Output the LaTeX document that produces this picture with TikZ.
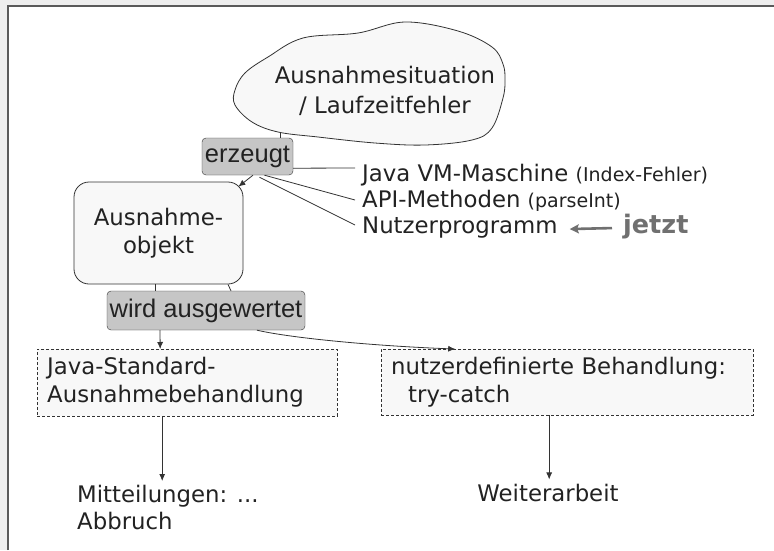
\documentclass[tikz,border=0pt]{standalone}
\usepackage{fontspec}
\setmainfont{DejaVu Sans}
\newfontfamily\arialfont{Liberation Sans}
\usetikzlibrary{arrows.meta,calc}
\definecolor{txt}{HTML}{222222}
\definecolor{ln}{HTML}{333333}
\definecolor{boxgray}{HTML}{C6C6C6}
\definecolor{pale}{HTML}{F8F8F8}
\definecolor{jetztgray}{HTML}{707070}
\definecolor{outerbg}{HTML}{EEEEEE}
\definecolor{frameline}{HTML}{5A5A5A}
\begin{document}
\begin{tikzpicture}[x=1pt,y=-1pt,
  every node/.style={text=txt, font=\fontsize{22.8}{28}\selectfont},
  graybox/.style={draw=ln, fill=boxgray, rounded corners=4pt, inner xsep=1pt, inner ysep=0pt,
     font=\arialfont\fontsize{25.5}{30}\selectfont},
  dashbox/.style={draw=ln, fill=pale, dash pattern=on 3pt off 2pt, align=left, inner xsep=10pt, anchor=north west},
  listitem/.style={inner sep=0pt, anchor=base west},
  conn/.style={draw=ln, line width=0.8pt},
  arr/.style={conn, -{Latex[length=7pt,width=6pt]}},
  garr/.style={draw=jetztgray, line width=2.6pt, -{Stealth[length=9pt,width=9pt,inset=1.5pt]}}
]
\useasboundingbox (0,0) rectangle (774,550);
% frame
\fill[outerbg] (0,0) rectangle (774,550);
\fill[white] (8,6) rectangle (774,550);
\draw[frameline, line width=1.5pt] (8,550) -- (8,6) -- (774,6);

% cloud
\draw[ln, fill=pale, line width=0.8pt] plot[smooth cycle, tension=0.6] coordinates {
  (303,38) (358,33) (405,22) (458,31) (492,47) (503,64) (505,80) (503,98) (492,128)
  (472,140) (425,145) (375,143) (318,137) (278,132) (252,122) (235,105) (235,90)
  (245,73) (268,57)};
\node[align=center, font=\fontsize{22.8}{30}\selectfont] (cloud) at (385,91) {Ausnahmesituation\\/ Laufzeitfehler};
\coordinate (cloudfoot) at (280,132);

% boxes
\node[graybox, minimum width=91pt, minimum height=37pt] (erzeugt) at (247.5,156.5) {erzeugt};
\node[draw=ln, fill=pale, rounded corners=15pt, minimum width=169pt, minimum height=102pt, align=center, line width=0.8pt]
  (objekt) at (158.5,233) {Ausnahme-\\objekt};
\node[graybox, minimum width=198pt, minimum height=39pt] (wird) at (206,310.5) {wird ausgewertet};

\node[dashbox, minimum width=300pt, minimum height=67pt, text width=280pt] (javastd) at (37,349)
  {Java-Standard-\\Ausnahmebehandlung};
\node[dashbox, minimum width=372pt, minimum height=66pt, text width=352pt] (nutzerdef) at (381,349)
  {nutzerdefinierte Behandlung:\\\hspace*{17pt}try-catch};

\node[align=left, anchor=north west, inner sep=4pt, font=\fontsize{22.8}{26.5}\selectfont] (mitt) at (73,481) {Mitteilungen: ...\\Abbruch};
\node[anchor=base, inner sep=4pt] (weiter) at (548,501) {Weiterarbeit};

% list at right
\node[listitem] (javavm) at (362,181) {Java VM-Maschine {\fontsize{19}{22}\selectfont (Index-Fehler)}};
\node[listitem] (api) at (362,207) {API-Methoden {\fontsize{19}{22}\selectfont (parseInt)}};
\node[listitem] (nutzer) at (362,233) {Nutzerprogramm};
\node[listitem, text=jetztgray, font=\bfseries\fontsize{25.5}{30}\selectfont] (jetzt) at (623,233) {jetzt};

% connectors
\draw[conn] (cloudfoot) -- (cloudfoot |- erzeugt.north);
\draw[conn] ([yshift=7pt]erzeugt.south east) -- ($(javavm.base west)+(-7,-13)$);
\draw[conn] ([xshift=17pt]erzeugt.south) -- ($(api.base west)+(-7,-7)$);
\draw[conn] ([xshift=12pt,yshift=-2pt]erzeugt.south) -- ($(nutzer.base west)+(-7,-8)$);
\draw[arr] ([xshift=5.5pt]erzeugt.south) -- ([xshift=-5pt,yshift=-5pt]objekt.north east);
\draw[conn] ([xshift=-3.5pt]objekt.south) -- ([xshift=-51pt]wird.north);
\draw[conn] ([xshift=69.5pt]objekt.south) -- ([xshift=25pt]wird.north);
\draw[arr] ([xshift=-46pt]wird.south) -- ([xshift=-27pt]javastd.north);
\draw[arr] ([xshift=51pt]wird.south) .. controls +(35,8) and +(-80,-3) .. ([xshift=-112pt]nutzerdef.north);
\draw[arr] ([xshift=-25pt]javastd.south) -- ([xshift=-25pt]javastd.south |- mitt.north);
\draw[arr] ([xshift=-18pt]nutzerdef.south) -- ([xshift=-18pt]nutzerdef.south |- weiter.north);
\draw[garr] ([xshift=-11pt,yshift=-2pt]jetzt.west) -- ([xshift=12pt,yshift=-2pt]nutzer.east);
\end{tikzpicture}
\end{document}
